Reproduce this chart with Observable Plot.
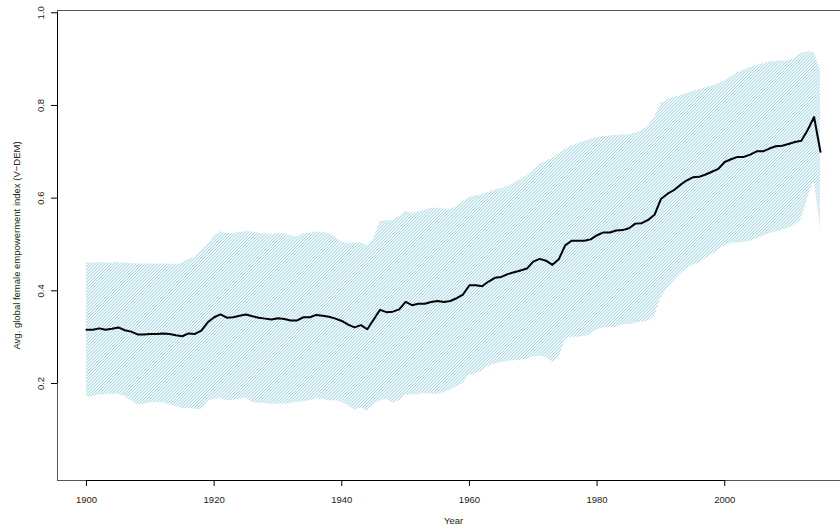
<!DOCTYPE html>
<html><head><meta charset="utf-8">
<script src="https://cdn.jsdelivr.net/npm/d3@7"></script>
<script src="https://cdn.jsdelivr.net/npm/@observablehq/plot@0.6"></script>
<style>body{margin:0;background:#fff}#chart svg{display:block}</style>
</head><body><div id="chart"></div>
<script>
const years = [
1900,1901,1902,1903,1904,1905,1906,1907,1908,1909,
1910,1911,1912,1913,1914,1915,1916,1917,1918,1919,
1920,1921,1922,1923,1924,1925,1926,1927,1928,1929,
1930,1931,1932,1933,1934,1935,1936,1937,1938,1939,
1940,1941,1942,1943,1944,1945,1946,1947,1948,1949,
1950,1951,1952,1953,1954,1955,1956,1957,1958,1959,
1960,1961,1962,1963,1964,1965,1966,1967,1968,1969,
1970,1971,1972,1973,1974,1975,1976,1977,1978,1979,
1980,1981,1982,1983,1984,1985,1986,1987,1988,1989,
1990,1991,1992,1993,1994,1995,1996,1997,1998,1999,
2000,2001,2002,2003,2004,2005,2006,2007,2008,2009,
2010,2011,2012,2013,2014,2015];
const meanIndex = [
0.316,0.316,0.319,0.316,0.318,0.321,0.315,0.312,0.306,0.306,
0.307,0.307,0.308,0.307,0.304,0.302,0.308,0.307,0.314,0.332,
0.343,0.349,0.342,0.343,0.346,0.349,0.345,0.342,0.340,0.338,
0.341,0.339,0.336,0.336,0.343,0.343,0.348,0.346,0.344,0.340,
0.335,0.327,0.321,0.326,0.317,0.338,0.359,0.354,0.355,0.360,
0.376,0.369,0.372,0.372,0.376,0.378,0.376,0.378,0.384,0.392,
0.412,0.412,0.410,0.420,0.428,0.430,0.436,0.440,0.444,0.448,
0.463,0.469,0.465,0.456,0.468,0.498,0.508,0.508,0.508,0.511,
0.520,0.526,0.526,0.530,0.531,0.535,0.545,0.546,0.553,0.564,
0.598,0.609,0.617,0.628,0.638,0.645,0.646,0.651,0.657,0.663,
0.678,0.684,0.689,0.689,0.694,0.701,0.701,0.707,0.712,0.713,
0.717,0.721,0.724,0.747,0.775,0.700];
const upperIndex = [
0.460,0.460,0.461,0.460,0.460,0.461,0.460,0.459,0.458,0.458,
0.458,0.458,0.458,0.458,0.457,0.459,0.468,0.472,0.486,0.500,
0.518,0.528,0.523,0.524,0.526,0.528,0.527,0.524,0.523,0.521,
0.523,0.523,0.519,0.516,0.523,0.524,0.527,0.526,0.523,0.516,
0.505,0.502,0.503,0.503,0.498,0.512,0.549,0.551,0.552,0.560,
0.571,0.567,0.570,0.574,0.578,0.578,0.576,0.576,0.581,0.592,
0.602,0.605,0.607,0.612,0.617,0.620,0.625,0.632,0.640,0.648,
0.660,0.672,0.680,0.685,0.695,0.705,0.712,0.718,0.722,0.727,
0.730,0.733,0.734,0.735,0.736,0.737,0.740,0.745,0.755,0.773,
0.804,0.813,0.817,0.821,0.826,0.830,0.834,0.838,0.842,0.847,
0.853,0.862,0.870,0.876,0.882,0.886,0.890,0.894,0.895,0.896,
0.896,0.902,0.912,0.916,0.915,0.875];
const lowerIndex = [
0.172,0.172,0.175,0.176,0.177,0.177,0.172,0.163,0.154,0.155,
0.158,0.159,0.158,0.154,0.151,0.146,0.146,0.145,0.143,0.161,
0.166,0.168,0.163,0.164,0.166,0.169,0.159,0.157,0.157,0.155,
0.156,0.155,0.157,0.159,0.161,0.163,0.168,0.166,0.163,0.163,
0.160,0.152,0.143,0.147,0.140,0.154,0.163,0.166,0.158,0.163,
0.175,0.175,0.176,0.179,0.177,0.177,0.180,0.186,0.193,0.200,
0.218,0.221,0.227,0.237,0.242,0.245,0.248,0.249,0.250,0.253,
0.258,0.259,0.256,0.246,0.255,0.295,0.300,0.300,0.302,0.306,
0.316,0.320,0.321,0.322,0.326,0.327,0.330,0.332,0.334,0.345,
0.385,0.405,0.420,0.435,0.447,0.455,0.460,0.470,0.478,0.488,
0.497,0.502,0.503,0.505,0.507,0.512,0.518,0.523,0.527,0.531,
0.535,0.542,0.555,0.600,0.638,0.535];
const xTicks = [1900, 1920, 1940, 1960, 1980, 2000];
const yTicks = [0.2, 0.4, 0.6, 0.8, 1.0];
const xLabel = "Year";
const yLabel = "Avg. global female empowerment index (V\u2212DEM)";

const data = years.map((year, i) => ({year, mean: meanIndex[i], upper: upperIndex[i], lower: lowerIndex[i]}));

const xDomain = [1895.46, 2018.14];
const yDomain = [-0.0093, 1.0049];
const xFrameRight = 2019.6;
const font = "'Liberation Sans', Arial, Helvetica, sans-serif";
const fs = 9.5;

const svg = Plot.plot({
  width: 840, height: 529,
  marginLeft: 57, marginRight: 0, marginTop: 10, marginBottom: 49,
  style: {fontFamily: font, fontSize: fs + "px", color: "#222", background: "#fff"},
  x: {domain: xDomain, axis: null},
  y: {domain: yDomain, axis: null},
  marks: [
    Plot.areaY(data, {x: "year", y1: "lower", y2: "upper", fill: "url(#hatch)", curve: "linear"}),
    Plot.line(data, {x: "year", y: "mean", stroke: "#000", strokeWidth: 2, curve: "linear"}),
    // frame (box) lines
    Plot.ruleY([yDomain[1]], {x1: xDomain[0], x2: xFrameRight, stroke: "#555", strokeWidth: 1}),
    Plot.ruleY([yDomain[0]], {x1: xDomain[0], x2: xFrameRight, stroke: "#555", strokeWidth: 1}),
    Plot.ruleX([xDomain[0]], {y1: yDomain[0], y2: yDomain[1], stroke: "#555", strokeWidth: 1}),
    // axis lines
    Plot.ruleY([yDomain[0]], {x1: xTicks[0], x2: xTicks[xTicks.length - 1], stroke: "#000", strokeWidth: 1}),
    Plot.ruleX([xDomain[0]], {y1: yTicks[0], y2: yTicks[yTicks.length - 1], stroke: "#000", strokeWidth: 1}),
    // ticks
    Plot.axisX({ticks: xTicks, tickSize: 6, tickFormat: () => "", label: null, anchor: "bottom", stroke: "#000"}),
    Plot.axisY({ticks: yTicks, tickSize: 6, tickFormat: () => "", label: null, anchor: "left", stroke: "#000"}),
    // tick labels
    Plot.text(xTicks, {x: d => d, frameAnchor: "bottom", dy: 19, text: d => String(d), fontSize: fs, fill: "#222", textAnchor: "middle", lineAnchor: "middle"}),
    Plot.text(yTicks, {y: d => d, frameAnchor: "left", dx: -17, rotate: -90, text: d => d.toFixed(1), fontSize: fs, fill: "#222", textAnchor: "middle", lineAnchor: "middle"}),
    // axis titles
    Plot.text([xLabel], {x: (xDomain[0] + xFrameRight) / 2, frameAnchor: "bottom", dy: 40, text: d => d, fontSize: fs, fill: "#222", textAnchor: "middle", lineAnchor: "middle"}),
    Plot.text([yLabel], {y: (yDomain[0] + yDomain[1]) / 2, frameAnchor: "left", dx: -41, rotate: -90, text: d => d, fontSize: fs, fill: "#222", textAnchor: "middle", lineAnchor: "middle"})
  ]
});

const ns = "http://www.w3.org/2000/svg";
const defs = document.createElementNS(ns, "defs");
const pat = document.createElementNS(ns, "pattern");
pat.setAttribute("id", "hatch");
pat.setAttribute("patternUnits", "userSpaceOnUse");
pat.setAttribute("width", "2.2");
pat.setAttribute("height", "2.2");
pat.setAttribute("patternTransform", "rotate(45)");
const ln = document.createElementNS(ns, "line");
ln.setAttribute("x1", "1.1"); ln.setAttribute("x2", "1.1");
ln.setAttribute("y1", "-1"); ln.setAttribute("y2", "3.2");
ln.setAttribute("stroke", "#9dd3e6");
ln.setAttribute("stroke-width", "0.9");
pat.appendChild(ln);
defs.appendChild(pat);
svg.insertBefore(defs, svg.firstChild);
document.getElementById("chart").appendChild(svg);
</script>
</body></html>
